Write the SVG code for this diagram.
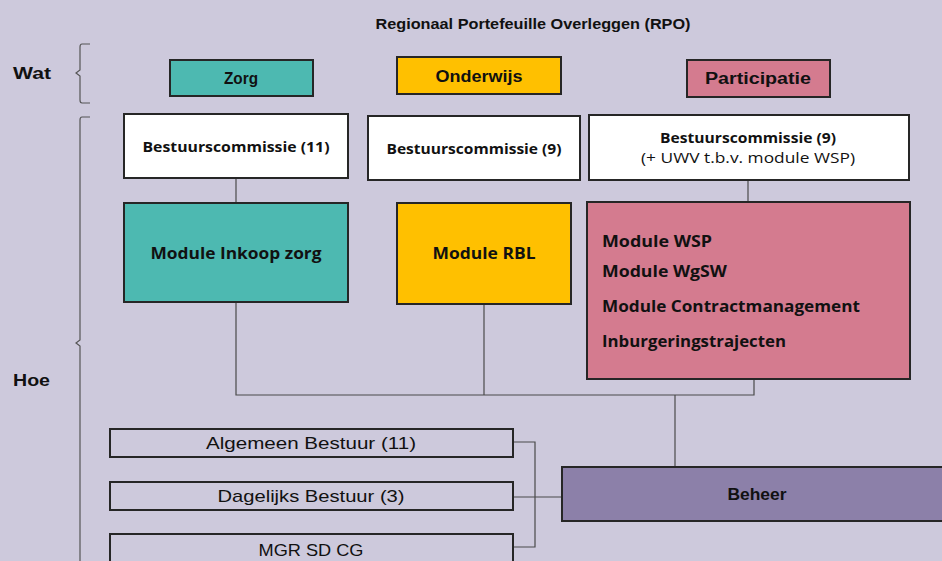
<svg xmlns="http://www.w3.org/2000/svg" width="942" height="561" viewBox="0 0 942 561">
<style>
.bx{stroke:#262626;stroke-width:2}
.ln{stroke:#4a4a4a;stroke-width:1.2;fill:none}
.br{stroke:#555;stroke-width:1.2;fill:none}
.t{font-family:"Open Sans","Liberation Sans",sans-serif;font-weight:bold;fill:#111;text-anchor:middle}
.s{font-family:"Open Sans","Liberation Sans",sans-serif;font-weight:normal;fill:#111;text-anchor:middle}
.c{font-family:"Liberation Sans",sans-serif;fill:#111;text-anchor:middle}
.l{font-family:"Open Sans","Liberation Sans",sans-serif;font-weight:bold;fill:#111}
</style>
<rect width="942" height="561" fill="#CDC9DC"/>
<text class="c" x="533" y="29" font-size="15" font-weight="bold" textLength="315" lengthAdjust="spacingAndGlyphs">Regionaal Portefeuille Overleggen (RPO)</text>
<g id="labels">
<text class="c" x="13" y="79" font-size="17" style="text-anchor:start" textLength="38" lengthAdjust="spacingAndGlyphs" font-weight="bold">Wat</text>
<text class="c" x="13" y="386" font-size="17" style="text-anchor:start" textLength="37" lengthAdjust="spacingAndGlyphs" font-weight="bold">Hoe</text>
<path class="br" d="M90,44 H82 Q80,44 80,47 V70 L76,73 L80,76 V100 Q80,103 82,103 H90"/>
<path class="br" d="M90,117 H82 Q80,117 80,120 V340 L76,343 L80,346 V561"/>
</g>
<g id="connectors">
<path class="ln" d="M236,178 V203"/>
<path class="ln" d="M748,180 V202"/>
<path class="ln" d="M236,302 V395 H754 V379"/>
<path class="ln" d="M484,304 V395"/>
<path class="ln" d="M675,395 V467"/>
<path class="ln" d="M513,442 H535 V547 H513"/>
<path class="ln" d="M513,497 H562"/>
</g>
<g id="zorg"><rect class="bx" x="170" y="60" width="143" height="36" fill="#4DB9B1"/><text class="c" x="241" y="84" font-size="16" font-weight="bold" textLength="34" lengthAdjust="spacingAndGlyphs">Zorg</text></g>
<g id="onderwijs"><rect class="bx" x="397" y="57" width="164" height="37" fill="#FFC000"/><text class="c" x="479" y="82" font-size="16" font-weight="bold" textLength="87" lengthAdjust="spacingAndGlyphs">Onderwijs</text></g>
<g id="participatie"><rect class="bx" x="687" y="60" width="143" height="37" fill="#D47B8F"/><text class="c" x="758" y="84" font-size="16" font-weight="bold" textLength="106" lengthAdjust="spacingAndGlyphs">Participatie</text></g>
<g id="bc11"><rect class="bx" x="124" y="114" width="224" height="64" fill="#fff"/><text class="t" x="236" y="152" font-size="14.5" textLength="187" lengthAdjust="spacingAndGlyphs">Bestuurscommissie (11)</text></g>
<g id="bc9a"><rect class="bx" x="368" y="116" width="212" height="64" fill="#fff"/><text class="t" x="474" y="154" font-size="14.5" textLength="175" lengthAdjust="spacingAndGlyphs">Bestuurscommissie (9)</text></g>
<g id="bc9b"><rect class="bx" x="589" y="115" width="320" height="65" fill="#fff"/><text class="t" x="748" y="143" font-size="14.5" textLength="176" lengthAdjust="spacingAndGlyphs">Bestuurscommissie (9)</text><text class="s" x="748" y="163" font-size="14" textLength="214" lengthAdjust="spacingAndGlyphs">(+ UWV t.b.v. module WSP)</text></g>
<g id="inkoop"><rect class="bx" x="124" y="203" width="224" height="99" fill="#4DB9B1"/><text class="t" x="236" y="259" font-size="16.5" textLength="171" lengthAdjust="spacingAndGlyphs">Module Inkoop zorg</text></g>
<g id="rbl"><rect class="bx" x="397" y="203" width="174" height="101" fill="#FFC000"/><text class="t" x="484" y="259" font-size="16.5" textLength="103" lengthAdjust="spacingAndGlyphs">Module RBL</text></g>
<g id="partmod"><rect class="bx" x="587" y="202" width="323" height="177" fill="#D47B8F"/>
<text class="l" x="602" y="247" font-size="15.5" textLength="110" lengthAdjust="spacingAndGlyphs">Module WSP</text>
<text class="l" x="602" y="277" font-size="15.5" textLength="125" lengthAdjust="spacingAndGlyphs">Module WgSW</text>
<text class="l" x="602" y="312" font-size="15.5" textLength="258" lengthAdjust="spacingAndGlyphs">Module Contractmanagement</text>
<text class="l" x="602" y="347" font-size="15.5" textLength="184" lengthAdjust="spacingAndGlyphs">Inburgeringstrajecten</text></g>
<g id="ab"><rect class="bx" x="110" y="429" width="403" height="28" fill="#CDC9DC"/><text class="c" x="311" y="449" font-size="17" textLength="210" lengthAdjust="spacingAndGlyphs">Algemeen Bestuur (11)</text></g>
<g id="db"><rect class="bx" x="110" y="482" width="403" height="28" fill="#CDC9DC"/><text class="c" x="311" y="502" font-size="17" textLength="187" lengthAdjust="spacingAndGlyphs">Dagelijks Bestuur (3)</text></g>
<g id="mgr"><rect class="bx" x="110" y="534" width="403" height="30" fill="#CDC9DC"/><text class="c" x="311" y="556" font-size="17" textLength="105" lengthAdjust="spacingAndGlyphs">MGR SD CG</text></g>
<g id="beheer"><rect class="bx" x="562" y="467" width="382" height="54" fill="#8C80A9"/><text class="c" x="757" y="500" font-size="16" font-weight="bold" textLength="59" lengthAdjust="spacingAndGlyphs">Beheer</text></g>
</svg>
